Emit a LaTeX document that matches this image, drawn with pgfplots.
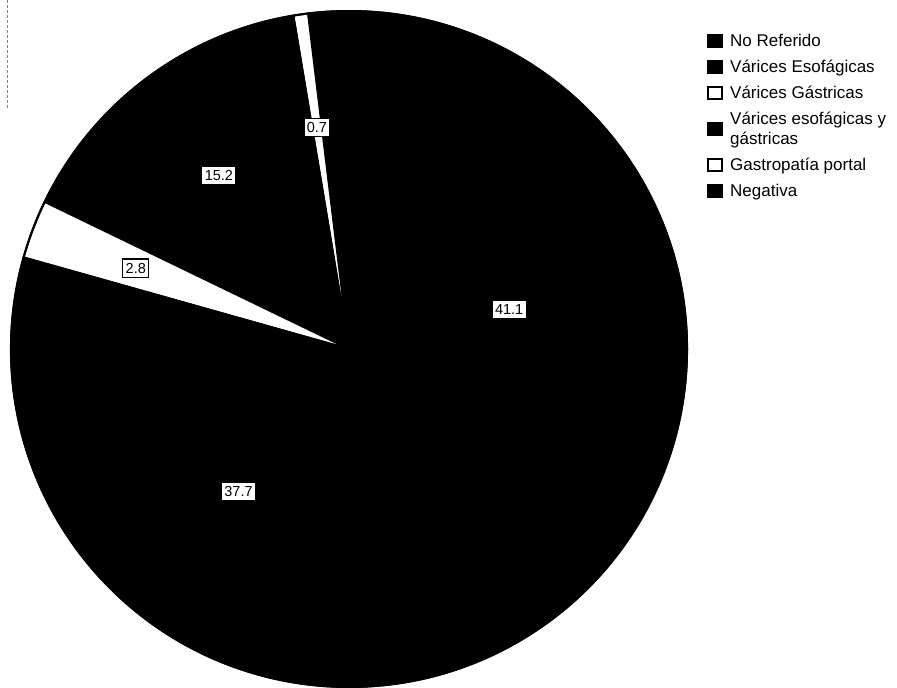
\documentclass[border=0pt]{standalone}
\usepackage{pgfplots}
\pgfplotsset{compat=1.18}
\usepackage{pgfplotstable}
\usepackage{fontspec}
\setmainfont{Liberation Sans}

% value = percentage, fill colour, label radius (px from centre; 0 = no label)
\pgfplotstableread[col sep=comma]{
value,color,labr
41.1,black,165
2.5,black,0
0.7,white,224
15.2,black,217
2.8,white,228
37.7,black,180
}\piedata

\pgfplotsset{sq/.style={legend image code/.code={\draw[##1,draw=black,line width=2pt] (0pt,-6pt) rectangle (13.5pt,6pt); \path[draw=none,fill=none] (0pt,0pt) rectangle (20pt,0.1pt);}}}

\begin{document}
\begin{tikzpicture}
% cumulative angles (counter-clockwise, starting at -60 deg)
\pgfplotstablegetrowsof{\piedata}
\pgfmathtruncatemacro\N{\pgfplotsretval-1}
\gdef\cum{-60}
\foreach \i in {0,...,\N}{
  \pgfplotstablegetelem{\i}{value}\of\piedata \let\v\pgfplotsretval
  \pgfmathsetmacro\s{\cum}
  \pgfmathsetmacro\e{\cum+3.6*\v}
  \pgfmathsetmacro\m{(\s+\e)/2}
  \expandafter\xdef\csname ps\i\endcsname{\s}
  \expandafter\xdef\csname pe\i\endcsname{\e}
  \expandafter\xdef\csname pm\i\endcsname{\m}
  \expandafter\xdef\csname pv\i\endcsname{\v}
  \pgfplotstablegetelem{\i}{color}\of\piedata
  \expandafter\xdef\csname pc\i\endcsname{\pgfplotsretval}
  \pgfplotstablegetelem{\i}{labr}\of\piedata
  \expandafter\xdef\csname pr\i\endcsname{\pgfplotsretval}
  \xdef\cum{\e}
}
\begin{axis}[
  hide axis, scale only axis, width=897pt, height=688pt,
  xtick=\empty, ytick=\empty,
  xmin=0, xmax=897, ymin=0, ymax=688, y dir=reverse, clip=false,
  legend cell align=left,
  legend style={at={(axis cs:704,30)}, anchor=north west, draw=none, fill=none,
    font=\fontsize{17}{20}\selectfont, row sep=8pt, cells={align=left}},
]
\path (rel axis cs:0,0) rectangle (rel axis cs:1,1);
\draw[gray, densely dashed, line width=0.6pt] (axis cs:7,0) -- (axis cs:7,110);
\pgfplotsinvokeforeach{0,...,5}{
  \edef\temp{\noexpand\filldraw[fill=\csname pc#1\endcsname, draw=black, line width=2pt, line join=round]
    (axis cs:349,349) -- ++(\csname ps#1\endcsname:338pt)
    arc[start angle=\csname ps#1\endcsname, end angle=\csname pe#1\endcsname, radius=338pt] -- cycle;}
  \temp
}
\draw[black, line width=2pt] (axis cs:349,349) circle[radius=338pt];
\pgfplotsinvokeforeach{0,2,3,4,5}{
  \edef\temp{\noexpand\node[fill=white, draw=black, line width=1.2pt, inner xsep=3pt, inner ysep=4pt,
    font=\noexpand\fontsize{14.5}{16}\noexpand\selectfont,
    shift={(\csname pm#1\endcsname:\csname pr#1\endcsname pt)}] at (axis cs:349,349) {\csname pv#1\endcsname};}
  \temp
}
\addlegendimage{sq, fill=black}\addlegendentry{No Referido}
\addlegendimage{sq, fill=black}\addlegendentry{Várices Esofágicas}
\addlegendimage{sq, fill=white}\addlegendentry{Várices Gástricas}
\addlegendimage{sq, fill=black}\addlegendentry{Várices esofágicas y\\gástricas}
\addlegendimage{sq, fill=white}\addlegendentry{Gastropatía portal}
\addlegendimage{sq, fill=black}\addlegendentry{Negativa}
\end{axis}
\pgfresetboundingbox
\path (0,0) rectangle (897pt,688pt);
\end{tikzpicture}
\end{document}
